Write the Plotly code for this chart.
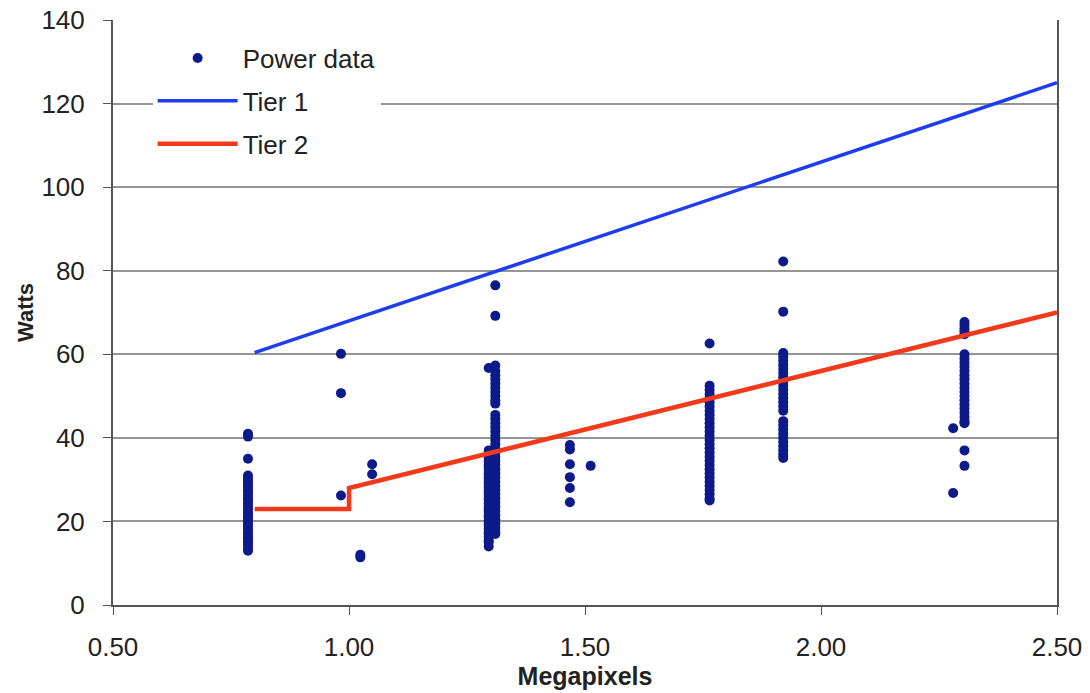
import plotly.graph_objects as go

# Measured on-mode power (W) grouped by native resolution (megapixels)
mp_group = [0.786, 0.983, 1.024, 1.049, 1.296, 1.31, 1.468, 1.512, 1.764, 1.92, 2.28, 2.304]
watts_0786 = [41.0, 40.3, 35.0, 31.0, 30.3, 29.6, 29.0, 28.3, 27.5, 27.0, 26.2, 25.5, 25.0,
              24.3, 23.5, 23.0, 22.2, 21.5, 21.0, 20.3, 19.5, 19.0, 18.3, 17.5, 17.0, 16.2,
              15.5, 15.0, 14.3, 13.5, 13.0]
watts_0983 = [60.1, 50.7, 26.2]
watts_1024 = [12.0, 11.4]
watts_1049 = [33.7, 31.3]
watts_1296 = [56.7, 37.0, 36.3, 35.5, 35.0, 34.3, 33.5, 33.0, 32.3, 31.5, 31.0, 30.3, 29.5,
              29.0, 28.3, 27.5, 27.0, 26.3, 25.5, 25.0, 24.3, 23.5, 23.0, 22.3, 21.5, 21.0,
              20.3, 19.5, 19.0, 18.3, 17.5, 17.0, 16.3, 15.5, 15.0, 14.0]
watts_1310 = [76.5, 69.2, 57.3, 56.0, 55.0, 54.0, 53.0, 52.0, 51.0, 50.0, 49.0, 48.2, 45.5,
              44.5, 43.5, 42.5, 41.5, 40.5, 39.5, 38.5, 37.5, 36.5, 35.5, 34.5, 33.5, 32.5,
              31.5, 30.5, 29.5, 28.5, 27.5, 26.5, 25.5, 24.5, 23.5, 22.5, 21.5, 20.5, 19.5,
              18.5, 17.5, 17.0]
watts_1468 = [38.3, 37.2, 33.7, 30.6, 28.0, 24.6]
watts_1512 = [33.3]
watts_1764 = [62.6, 52.5, 51.5, 50.5, 49.5, 48.5, 47.5, 46.5, 45.5, 44.5, 43.5, 42.5, 41.5,
              40.5, 39.5, 38.5, 37.5, 36.5, 35.5, 34.5, 33.5, 32.5, 31.5, 30.5, 29.5, 28.5,
              27.5, 26.5, 25.5, 25.0]
watts_1920 = [82.2, 70.2, 60.3, 59.5, 58.5, 57.5, 56.5, 55.5, 54.5, 53.5, 52.5, 51.5, 50.5,
              49.5, 48.5, 47.5, 46.5, 44.0, 43.0, 42.0, 41.0, 40.0, 39.0, 38.0, 37.0, 36.0,
              35.2]
watts_2280 = [42.3, 26.8]
watts_2304 = [67.7, 67.0, 66.2, 65.5, 64.8, 60.0, 59.0, 58.0, 57.0, 56.0, 55.0, 54.0, 53.0,
              52.0, 51.0, 50.0, 49.0, 48.0, 47.0, 46.0, 45.0, 44.0, 43.5, 37.0, 33.3]
watts_by_group = [watts_0786, watts_0983, watts_1024, watts_1049, watts_1296, watts_1310,
                  watts_1468, watts_1512, watts_1764, watts_1920, watts_2280, watts_2304]

# Tier limit lines
tier1_x = [0.8, 2.5]
tier1_y = [60.4, 125.0]
tier2_x = [0.8, 1.0, 1.0, 2.5]
tier2_y = [23.0, 23.0, 28.0, 70.0]

x_ticks = [0.5, 1.0, 1.5, 2.0, 2.5]
x_ticklabels = ["0.50", "1.00", "1.50", "2.00", "2.50"]

pts_x, pts_y = [], []
for mp, ws in zip(mp_group, watts_by_group):
    pts_x += [mp] * len(ws)
    pts_y += ws

FONT = "Liberation Sans, Arial, sans-serif"
TXT = "#222222"

fig = go.Figure()
fig.add_trace(go.Scatter(x=pts_x, y=pts_y, mode="markers", name="Power data",
                         legendgroup="a",
                         marker=dict(color="#0d1a8a", size=10, line=dict(width=0))))
fig.add_trace(go.Scatter(x=tier1_x, y=tier1_y, mode="lines", name="Tier 1",
                         legendgroup="b",
                         line=dict(color="#1f3df0", width=3.5)))
fig.add_trace(go.Scatter(x=tier2_x, y=tier2_y, mode="lines", name="Tier 2",
                         legendgroup="c",
                         line=dict(color="#f23a1a", width=4.5)))

fig.update_layout(
    width=1090, height=693,
    margin=dict(l=113, r=33, t=20, b=88, autoexpand=False),
    paper_bgcolor="white", plot_bgcolor="white",
    font=dict(family=FONT, size=26, color=TXT),
    showlegend=True,
    legend=dict(x=0.042, y=0.975, xanchor="left", yanchor="top",
                bgcolor="white", borderwidth=0, tracegroupgap=6,
                font=dict(family=FONT, size=26, color=TXT),
                itemwidth=80),
    xaxis=dict(range=[0.5, 2.5], tickvals=x_ticks, ticktext=x_ticklabels,
               automargin=False,
               ticks="outside", ticklen=8, tickcolor="#555555", tickwidth=1,
               showline=True, linecolor="#555555", linewidth=2,
               showgrid=False, zeroline=False, ticklabelstandoff=10,
               tickfont=dict(family=FONT, size=26, color=TXT),
               title=dict(text="<b>Megapixels</b>", standoff=6,
                          font=dict(family=FONT, size=25, color=TXT))),
    yaxis=dict(range=[0, 140], tick0=0, dtick=20,
               automargin=False,
               ticks="outside", ticklen=8, tickcolor="#555555", tickwidth=1,
               showline=True, linecolor="#555555", linewidth=2, mirror=True,
               showgrid=True, gridcolor="#959595", gridwidth=1.5,
               zeroline=False, ticklabelstandoff=13,
               tickfont=dict(family=FONT, size=26, color=TXT),
               title=dict(text="<b>Watts</b>", standoff=2,
                          font=dict(family=FONT, size=22, color=TXT))),
)

fig.write_html("out.html")
